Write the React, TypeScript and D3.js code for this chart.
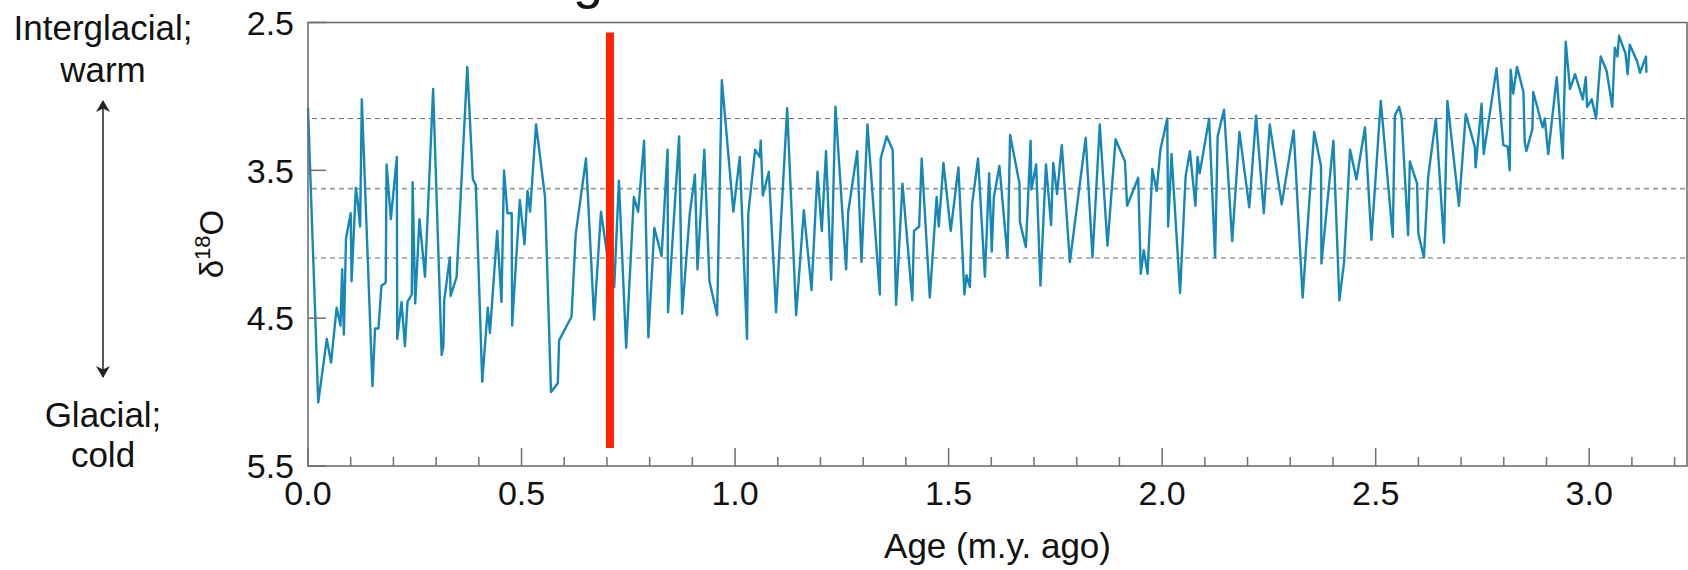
import React from "react";
import * as d3 from "d3";

// ---- Data ----
const ages: number[] = [
  0.0, 0.024, 0.044, 0.054, 0.067, 0.076, 0.08, 0.084, 0.089, 0.1, 0.102, 0.112, 0.116, 0.122, 0.126, 0.151, 0.157, 0.165, 0.172, 0.182,
  0.184, 0.194, 0.208, 0.209, 0.219, 0.227, 0.233, 0.243, 0.245, 0.251, 0.261, 0.274, 0.293, 0.313, 0.317, 0.319, 0.332, 0.334, 0.348, 0.373,
  0.386, 0.393, 0.408, 0.421, 0.426, 0.443, 0.453, 0.459, 0.467, 0.477, 0.478, 0.496, 0.507, 0.514, 0.52, 0.534, 0.555, 0.569, 0.585, 0.588,
  0.617, 0.627, 0.651, 0.67, 0.686, 0.699, 0.717, 0.728, 0.745, 0.763, 0.773, 0.787, 0.797, 0.811, 0.828, 0.842, 0.843, 0.869, 0.876, 0.894,
  0.906, 0.912, 0.928, 0.94, 0.958, 0.969, 0.996, 1.011, 1.028, 1.031, 1.047, 1.058, 1.06, 1.065, 1.079, 1.096, 1.122, 1.143, 1.161, 1.179,
  1.193, 1.203, 1.213, 1.225, 1.235, 1.26, 1.265, 1.286, 1.296, 1.31, 1.339, 1.341, 1.355, 1.369, 1.377, 1.392, 1.415, 1.419, 1.431, 1.437,
  1.456, 1.472, 1.477, 1.488, 1.505, 1.523, 1.537, 1.542, 1.55, 1.555, 1.569, 1.585, 1.595, 1.601, 1.606, 1.619, 1.638, 1.644, 1.666, 1.667,
  1.681, 1.692, 1.694, 1.705, 1.715, 1.728, 1.74, 1.745, 1.754, 1.765, 1.784, 1.821, 1.837, 1.854, 1.872, 1.891, 1.913, 1.918, 1.944, 1.95,
  1.957, 1.966, 1.977, 1.987, 1.996, 2.012, 2.014, 2.022, 2.042, 2.055, 2.065, 2.078, 2.083, 2.088, 2.11, 2.124, 2.13, 2.145, 2.164, 2.181,
  2.204, 2.22, 2.238, 2.252, 2.28, 2.308, 2.329, 2.356, 2.372, 2.373, 2.401, 2.415, 2.426, 2.44, 2.455, 2.475, 2.49, 2.512, 2.54, 2.545,
  2.555, 2.561, 2.576, 2.58, 2.597, 2.6, 2.613, 2.623, 2.641, 2.66, 2.668, 2.695, 2.711, 2.732, 2.734, 2.748, 2.753, 2.783, 2.799, 2.809,
  2.814, 2.816, 2.822, 2.831, 2.846, 2.849, 2.853, 2.867, 2.869, 2.891, 2.896, 2.904, 2.924, 2.938, 2.945, 2.955, 2.967, 2.985, 2.992, 2.995,
  3.006, 3.016, 3.027, 3.041, 3.054, 3.06, 3.066, 3.07, 3.085, 3.09, 3.095, 3.112, 3.119, 3.133, 3.134,
];

const d18O: number[] = [
  3.08, 5.07, 4.64, 4.8, 4.43, 4.55, 4.17, 4.61, 3.96, 3.79, 4.25, 3.62, 3.7, 3.88, 3.02, 4.96, 4.57, 4.57, 4.28, 4.26,
  3.46, 3.83, 3.41, 4.64, 4.39, 4.69, 4.39, 4.34, 3.58, 4.4, 3.83, 4.22, 2.95, 4.75, 4.69, 4.38, 4.09, 4.35, 4.22, 2.8,
  3.56, 3.6, 4.93, 4.43, 4.6, 3.91, 4.39, 3.5, 3.79, 3.79, 4.55, 3.7, 4.0, 3.64, 3.78, 3.19, 3.68, 5.0, 4.94, 4.65,
  4.49, 3.93, 3.42, 4.51, 3.78, 4.04, 4.29, 3.57, 4.7, 3.68, 3.78, 3.3, 4.63, 3.89, 4.08, 3.36, 4.46, 3.27, 4.47, 3.79,
  3.53, 4.17, 3.36, 4.25, 4.48, 2.89, 3.78, 3.41, 4.64, 3.79, 3.36, 3.41, 3.3, 3.67, 3.51, 4.46, 3.08, 4.48, 3.77, 4.31,
  3.51, 3.91, 3.37, 4.24, 3.07, 4.17, 3.78, 3.37, 4.12, 3.19, 4.34, 3.42, 3.27, 3.36, 4.41, 3.59, 4.38, 3.91, 3.88, 3.42,
  4.36, 3.68, 3.88, 3.45, 3.91, 3.48, 4.34, 4.21, 4.29, 3.73, 3.42, 4.22, 3.52, 4.05, 3.68, 3.47, 4.09, 3.26, 3.59, 3.85,
  4.02, 3.3, 3.63, 3.46, 4.28, 3.46, 3.87, 3.45, 3.66, 3.33, 4.12, 3.28, 4.09, 3.19, 4.01, 3.29, 3.44, 3.74, 3.55, 4.2,
  4.04, 4.2, 3.49, 3.64, 3.36, 3.15, 3.88, 3.39, 4.33, 3.54, 3.37, 3.74, 3.41, 3.52, 3.15, 4.09, 3.27, 3.09, 3.98, 3.24,
  3.75, 3.13, 3.79, 3.19, 3.73, 3.23, 4.36, 3.24, 3.47, 4.13, 3.3, 4.38, 4.12, 3.36, 3.56, 3.21, 3.97, 3.03, 3.95, 3.13,
  3.07, 3.15, 3.94, 3.44, 3.59, 3.93, 4.09, 3.54, 3.15, 3.99, 3.03, 3.74, 3.12, 3.34, 3.48, 3.05, 3.39, 2.81, 3.33, 3.34,
  3.5, 2.82, 2.98, 2.8, 2.97, 3.31, 3.37, 3.22, 2.97, 3.21, 3.15, 3.39, 2.87, 3.42, 2.63, 2.95, 2.85, 3.02, 2.87, 3.07,
  3.02, 3.15, 2.73, 2.83, 3.07, 2.67, 2.73, 2.59, 2.71, 2.85, 2.65, 2.76, 2.84, 2.73, 2.84,
];

const xMajorTicks: number[] = [0.0, 0.5, 1.0, 1.5, 2.0, 2.5, 3.0];
const xMinorTicks: number[] = [0.1, 0.2, 0.3, 0.4, 0.6, 0.7, 0.8, 0.9, 1.1, 1.2, 1.3, 1.4, 1.6, 1.7, 1.8, 1.9, 2.1, 2.2, 2.3, 2.4, 2.6, 2.7, 2.8, 2.9, 3.1, 3.2];
const yTicks: number[] = [2.5, 3.5, 4.5, 5.5];
const dashedLevels: number[] = [3.15, 3.624, 4.093];
const redMarkerAge = 0.707;
const redMarkerSpan: number[] = [2.567, 5.379];

const xDomain: [number, number] = [0, 3.229];
const yDomain: [number, number] = [2.5, 5.5];

export default function App() {
  const left = 308;
  const right = 1687;
  const top = 22.5;
  const bottom = 466;

  const x = d3.scaleLinear().domain(xDomain).range([left, right]);
  const y = d3.scaleLinear().domain(yDomain).range([top, bottom]);

  const points: [number, number][] = ages.map((a, i) => [a, d18O[i]]);
  const line = d3
    .line<[number, number]>()
    .x((d) => x(d[0]))
    .y((d) => y(d[1]));

  const font = "'Liberation Sans', Arial, Helvetica, sans-serif";
  const axisColor = "#6e6e6e";
  const arrowX = 103;

  return (
    <svg
      width={1688}
      height={570}
      viewBox="0 0 1688 570"
      style={{ position: "absolute", left: 0, top: 0, background: "#fff" }}
      fontFamily={font}
    >
      <defs>
        <marker id="ah" viewBox="0 0 12 14" refX="11" refY="7" markerWidth="12" markerHeight="14" markerUnits="userSpaceOnUse" orient="auto-start-reverse">
          <path d="M0,0 L12,7 L0,14 L3.5,7 Z" fill="#222" />
        </marker>
      </defs>
      <rect x={0} y={0} width={1688} height={570} fill="#fff" />

      {/* cut-off title glyph at the top */}
      <text x={588} y={-2} fontSize={54} textAnchor="middle" fill="#111">g</text>

      {/* dashed reference levels */}
      {dashedLevels.map((v, i) => (
        <line
          key={"d" + i}
          x1={left + 4}
          x2={right}
          y1={y(v)}
          y2={y(v)}
          stroke={i === 1 ? "#9a9a9a" : "#6a6a6a"}
          strokeWidth={i === 1 ? 1.6 : 1}
          strokeDasharray="5 4"
        />
      ))}

      {/* data line */}
      <path d={line(points) || ""} fill="none" stroke="#1588b7" strokeWidth={2.4} strokeLinejoin="round" />

      {/* red marker */}
      <line
        x1={x(redMarkerAge)}
        x2={x(redMarkerAge)}
        y1={y(redMarkerSpan[0])}
        y2={y(redMarkerSpan[1])}
        stroke="#ff2200"
        strokeWidth={8}
      />

      {/* frame */}
      <rect x={left} y={top} width={right - left} height={bottom - top} fill="none" stroke={axisColor} strokeWidth={1.6} />

      {/* x ticks */}
      {xMajorTicks.map((t) => (
        <g key={"xm" + t}>
          <line x1={x(t)} x2={x(t)} y1={bottom} y2={bottom - 18} stroke={axisColor} strokeWidth={1.5} />
          <text x={x(t)} y={505} fontSize={34} textAnchor="middle" fill="#111">
            {t.toFixed(1)}
          </text>
        </g>
      ))}
      {xMinorTicks.map((t) => (
        <line key={"xn" + t} x1={x(t)} x2={x(t)} y1={bottom} y2={bottom - 9} stroke={axisColor} strokeWidth={1.5} />
      ))}

      {/* y ticks */}
      {yTicks.map((t) => (
        <g key={"y" + t}>
          <line x1={left} x2={left + 18} y1={y(t)} y2={y(t)} stroke={axisColor} strokeWidth={1.5} />
          <text x={294} y={y(t)} dy="0.36em" fontSize={34} textAnchor="end" fill="#111">
            {t.toFixed(1)}
          </text>
        </g>
      ))}

      {/* axis titles */}
      <text x={997.5} y={558} fontSize={35} textAnchor="middle" fill="#111">
        Age (m.y. ago)
      </text>
      <text transform="translate(223,244) rotate(-90)" fontSize={33} textAnchor="middle" fill="#111">
        δ<tspan fontSize={22} dy={-13}>18</tspan>
        <tspan dy={13}>O</tspan>
      </text>

      {/* left annotation */}
      <text x={arrowX} y={40} fontSize={35} textAnchor="middle" fill="#111">Interglacial;</text>
      <text x={arrowX} y={82} fontSize={35} textAnchor="middle" fill="#111">warm</text>
      <text x={arrowX} y={427} fontSize={35} textAnchor="middle" fill="#111">Glacial;</text>
      <text x={arrowX} y={467} fontSize={35} textAnchor="middle" fill="#111">cold</text>
      <line
        x1={arrowX}
        x2={arrowX}
        y1={101}
        y2={377}
        stroke="#222"
        strokeWidth={1.5}
        markerStart="url(#ah)"
        markerEnd="url(#ah)"
      />
    </svg>
  );
}
